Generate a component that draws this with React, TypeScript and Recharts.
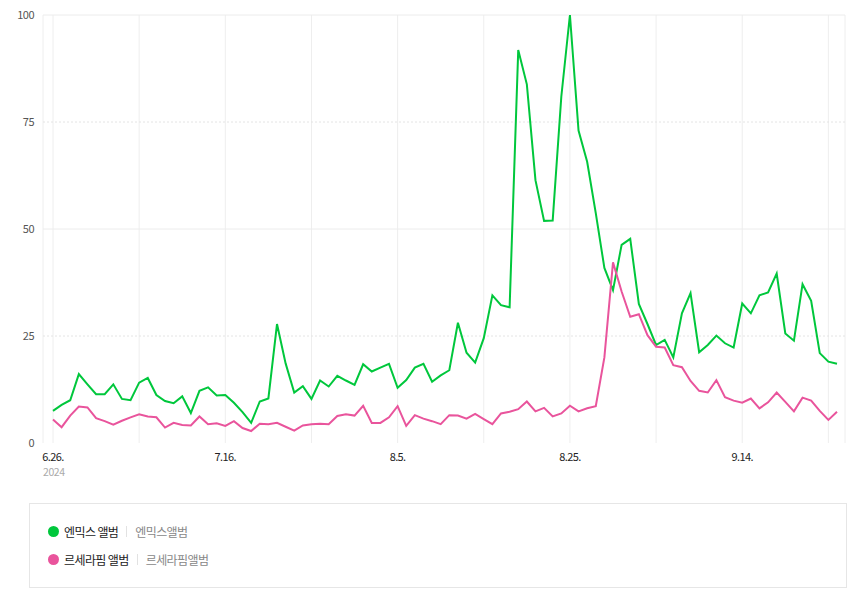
import { LineChart, Line, XAxis, YAxis, CartesianGrid, ReferenceLine } from "recharts";

const dates = [
  "6.26.", "6.27.", "6.28.", "6.29.", "6.30.",
  "7.1.", "7.2.", "7.3.", "7.4.", "7.5.", "7.6.", "7.7.", "7.8.", "7.9.", "7.10.",
  "7.11.", "7.12.", "7.13.", "7.14.", "7.15.", "7.16.", "7.17.", "7.18.", "7.19.", "7.20.",
  "7.21.", "7.22.", "7.23.", "7.24.", "7.25.", "7.26.", "7.27.", "7.28.", "7.29.", "7.30.", "7.31.",
  "8.1.", "8.2.", "8.3.", "8.4.", "8.5.", "8.6.", "8.7.", "8.8.", "8.9.", "8.10.",
  "8.11.", "8.12.", "8.13.", "8.14.", "8.15.", "8.16.", "8.17.", "8.18.", "8.19.", "8.20.",
  "8.21.", "8.22.", "8.23.", "8.24.", "8.25.", "8.26.", "8.27.", "8.28.", "8.29.", "8.30.", "8.31.",
  "9.1.", "9.2.", "9.3.", "9.4.", "9.5.", "9.6.", "9.7.", "9.8.", "9.9.", "9.10.",
  "9.11.", "9.12.", "9.13.", "9.14.", "9.15.", "9.16.", "9.17.", "9.18.", "9.19.", "9.20.",
  "9.21.", "9.22.", "9.23.", "9.24.", "9.25.",
];

// 엔믹스 앨범
const nmixx = [
  7.5, 8.9, 10.0, 16.1, 13.7, 11.4, 11.4, 13.7, 10.3, 10.0,
  14.1, 15.2, 11.2, 9.8, 9.3, 10.9, 7.0, 12.2, 13.0, 11.1,
  11.2, 9.4, 7.2, 4.7, 9.7, 10.4, 27.8, 18.6, 11.8, 13.3,
  10.3, 14.6, 13.2, 15.7, 14.6, 13.6, 18.4, 16.7, 17.6, 18.5,
  12.9, 14.7, 17.6, 18.5, 14.3, 15.8, 17.0, 28.1, 21.1, 18.8,
  24.5, 34.5, 32.2, 31.7, 91.8, 83.8, 61.4, 51.9, 52.0, 80.9,
  100, 73.0, 65.7, 53.7, 40.9, 35.7, 46.3, 47.7, 32.5, 27.8,
  22.9, 24.1, 20.0, 30.3, 35.0, 21.2, 22.9, 25.1, 23.3, 22.3,
  32.6, 30.3, 34.5, 35.2, 39.6, 25.6, 23.9, 37.1, 33.2, 21.0,
  19.0, 18.5,
];

// 르세라핌 앨범
const lesserafim = [
  5.5, 3.7, 6.4, 8.5, 8.3, 5.8, 5.1, 4.3, 5.2, 6.0,
  6.7, 6.2, 6.0, 3.6, 4.7, 4.2, 4.1, 6.2, 4.4, 4.6,
  4.0, 5.1, 3.5, 2.8, 4.5, 4.4, 4.7, 3.8, 2.9, 4.1,
  4.4, 4.5, 4.4, 6.3, 6.7, 6.4, 8.7, 4.7, 4.7, 6.0,
  8.6, 4.0, 6.5, 5.7, 5.1, 4.4, 6.5, 6.4, 5.7, 6.8,
  5.6, 4.4, 6.9, 7.3, 7.9, 9.7, 7.4, 8.2, 6.2, 6.9,
  8.7, 7.4, 8.1, 8.6, 20.0, 42.2, 35.4, 29.5, 30.1, 25.2,
  22.5, 22.3, 18.2, 17.7, 14.5, 12.2, 11.8, 14.7, 10.7, 9.9,
  9.4, 10.4, 8.1, 9.5, 11.8, 9.6, 7.4, 10.6, 9.9, 7.5,
  5.4, 7.3,
];

const gridTicks = ["6.26.", "7.6.", "7.16.", "7.26.", "8.5.", "8.15.", "8.25.", "9.4.", "9.14.", "9.24."];
const labelTicks = ["6.26.", "7.16.", "8.5.", "8.25.", "9.14."];
const yTicks = [0, 25, 50, 75, 100];
const yearLabel = "2024";

const series = [
  { key: "nmixx", name: "엔믹스 앨범", keyword: "엔믹스앨범", color: "#00c73c" },
  { key: "lesserafim", name: "르세라핌 앨범", keyword: "르세라핌앨범", color: "#e9549c" },
];

const data = dates.map((d, i) => ({ date: d, nmixx: nmixx[i], lesserafim: lesserafim[i] }));

const FONT = "'Noto Sans CJK KR', 'Noto Sans', sans-serif";

const DateTick = (props: any) => {
  const { x, y, payload } = props;
  if (!labelTicks.includes(payload.value)) return null;
  return (
    <g>
      <text x={x} y={y + 10} textAnchor="middle" fontSize={11} fill="#222" fontFamily={FONT} letterSpacing={-0.6}>
        {payload.value}
      </text>
      {payload.value === dates[0] && (
        <text x={x - 10} y={y + 25} textAnchor="start" fontSize={10.5} fill="#aaa" fontFamily={FONT} letterSpacing={-0.4}>
          {yearLabel}
        </text>
      )}
    </g>
  );
};

export default function App() {
  return (
    <div style={{ position: "absolute", left: 0, top: 0, width: 850, height: 591, background: "#fff" }}>
      <LineChart width={850} height={490} data={data} margin={{ top: 15, right: 5, bottom: 0, left: 0 }}>
        <CartesianGrid horizontal={false} stroke="#eeeeee" />
        {yTicks.filter((t) => t > 0).map((t) => (
          <ReferenceLine
            key={t}
            y={t}
            stroke={t % 50 === 0 ? "#ececec" : "#e4e4e4"}
            strokeDasharray={t % 50 === 0 ? undefined : "2 2"}
          />
        ))}
        <XAxis
          dataKey="date"
          ticks={gridTicks}
          interval={0}
          axisLine={false}
          tickLine={false}
          height={47}
          padding={{ left: 10, right: 8 }}
          tick={<DateTick />}
        />
        <YAxis
          domain={[0, 100]}
          ticks={yTicks}
          axisLine={false}
          tickLine={false}
          width={43}
          tickMargin={3}
          tick={{ fontSize: 11, fill: "#555", fontFamily: FONT, letterSpacing: -0.5 }}
        />
        {series.map((s) => (
          <Line
            key={s.key}
            dataKey={s.key}
            name={s.name}
            stroke={s.color}
            strokeWidth={2}
            dot={false}
            type="linear"
            isAnimationActive={false}
          />
        ))}
      </LineChart>
      <div
        style={{
          position: "absolute",
          left: 29,
          top: 503,
          width: 816,
          height: 83,
          border: "1px solid #e6e6e6",
          fontFamily: FONT,
        }}
      >
        {series.map((s, i) => (
          <div
            key={s.key}
            style={{ position: "absolute", left: 18, top: 17 + i * 28, display: "flex", alignItems: "center", height: 20 }}
          >
            <span style={{ width: 11, height: 11, borderRadius: "50%", background: s.color, display: "inline-block" }} />
            <span style={{ marginLeft: 5, fontSize: 12, color: "#222", letterSpacing: -0.6 }}>{s.name}</span>
            <span style={{ margin: "0 8px", width: 1, height: 11, background: "#e2e2e2", display: "inline-block" }} />
            <span style={{ fontSize: 12, color: "#888", letterSpacing: -0.6 }}>{s.keyword}</span>
          </div>
        ))}
      </div>
    </div>
  );
}
